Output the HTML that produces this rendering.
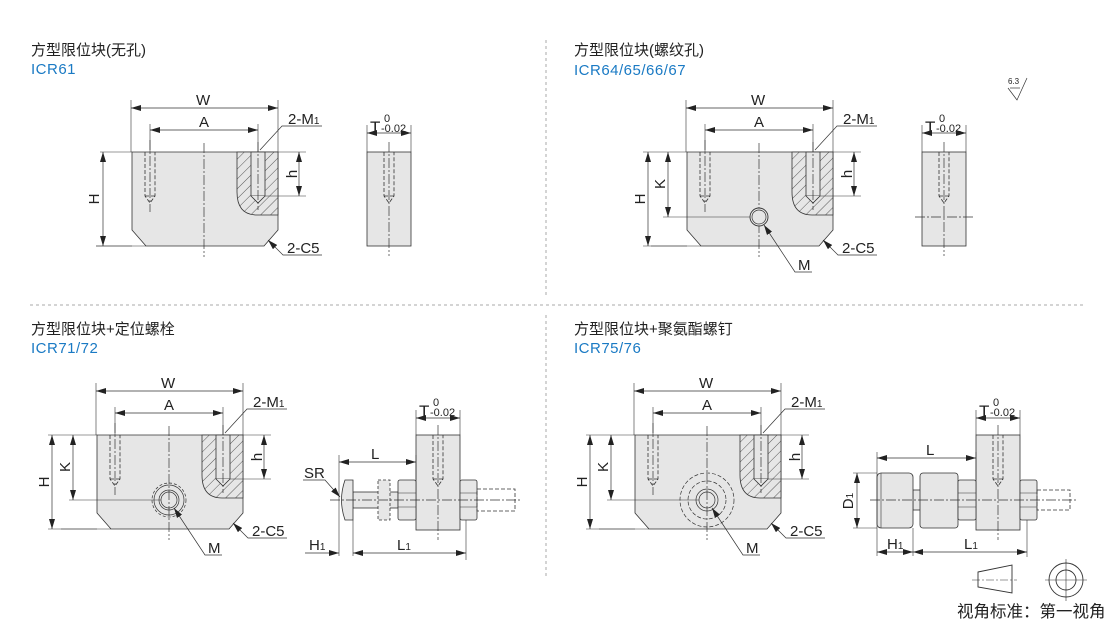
<!DOCTYPE html>
<html><head><meta charset="utf-8"><style>
html,body{margin:0;padding:0;background:#fff;}
svg{display:block;font-family:"Liberation Sans","Noto Sans CJK SC",sans-serif;}
.t{font-size:15px;fill:#222;}
.b{font-size:15px;fill:#1a7ac4;letter-spacing:0.5px;}
.l{font-size:15px;fill:#222;}
.s{font-size:11px;fill:#222;}
.T{font-size:17px;fill:#222;}
</style></head><body>
<svg width="1110" height="623" viewBox="0 0 1110 623" xmlns="http://www.w3.org/2000/svg">
<defs>
<marker id="a" viewBox="0 0 10 6" refX="10" refY="3" markerWidth="10" markerHeight="6" markerUnits="userSpaceOnUse" orient="auto-start-reverse"><path d="M0,0 L10,3 L0,6 Z" fill="#222"/></marker>
<pattern id="h" width="7" height="7" patternUnits="userSpaceOnUse" patternTransform="rotate(45)"><rect width="7" height="7" fill="#e6e6e6"/><line x1="0" y1="0" x2="0" y2="7" stroke="#333" stroke-width="0.8"/></pattern>
<g id="blk" stroke="#333" stroke-width="0.8" fill="none">
 <polygon points="132,152 278,152 278,230 264,246 146,246 132,230" fill="#e6e6e6"/>
 <path d="M237,152 L278,152 L278,215 L257,215 Q237,215 237,192 Z" fill="url(#h)"/>
 <rect x="251" y="152" width="14" height="44" fill="#e6e6e6"/>
 <path d="M251,196 L258,203 L265,196" fill="#e6e6e6"/>
 <path d="M145,152 V196 L150,203 L155,196 V152 M145,196 H155" stroke-dasharray="4,2"/>
 <path d="M150,140 V212 M258,142 V210 M204,143 V257" stroke-dasharray="10,2,2,2" stroke-width="0.7"/>
 <path d="M131,100 V152 M278,100 V152 M150,124 V152 M258,124 V152" stroke-width="0.6"/>
 <line x1="131" y1="108" x2="278" y2="108" marker-start="url(#a)" marker-end="url(#a)" stroke-width="0.7"/>
 <line x1="150" y1="130" x2="258" y2="130" marker-start="url(#a)" marker-end="url(#a)" stroke-width="0.7"/>
 <path d="M322,126 H282 L260,150" stroke-width="0.7"/>
 <path d="M278,152 H306 M265,196 H306" stroke-width="0.6"/>
 <line x1="299" y1="152" x2="299" y2="196" marker-start="url(#a)" marker-end="url(#a)" stroke-width="0.7"/>
 <path d="M322,255 H283 L268,240" stroke-width="0.7" marker-end="url(#a)"/>
 <path d="M96,246 H146" stroke-width="0.6"/>
</g>
<g id="side" stroke="#333" stroke-width="0.8" fill="none">
 <rect x="367" y="152" width="44" height="94" fill="#e6e6e6"/>
 <path d="M384,152 V196 L389,203 L394,196 V152 M384,196 H394" stroke-dasharray="4,2"/>
 <path d="M389,142 V256" stroke-dasharray="10,2,2,2" stroke-width="0.7"/>
 <path d="M367,125 V152 M411,125 V152" stroke-width="0.6"/>
 <line x1="367" y1="133" x2="411" y2="133" marker-start="url(#a)" marker-end="url(#a)" stroke-width="0.7"/>
</g>
<g id="lbl">
 <text class="l" x="196" y="105">W</text>
 <text class="l" x="199" y="127">A</text>
 <text class="l" x="288" y="124">2-M<tspan font-size="10">1</tspan></text>
 <text class="l" x="287" y="253">2-C5</text>
 <text class="l" transform="translate(297,174) rotate(-90)" text-anchor="middle">h</text>
</g>
<g id="slbl">
 <text class="T" x="370" y="133">T</text><text class="s" x="384" y="122">0</text><text class="s" x="381" y="132">-0.02</text>
</g>
</defs>

<g stroke="#aaa" stroke-width="1" stroke-dasharray="3,3">
<line x1="546" y1="40" x2="546" y2="296"/>
<line x1="546" y1="315" x2="546" y2="578"/>
<line x1="30" y1="305" x2="1085" y2="305"/>
</g>

<text class="t" x="31" y="55">方型限位块(无孔)</text>
<text class="b" x="31" y="74">ICR61</text>
<use href="#blk"/><use href="#lbl"/><use href="#side"/><use href="#slbl"/>
<g stroke="#333" stroke-width="0.7" fill="none">
<path d="M100,152 H132 M96,246 H132" stroke-width="0.6"/>
<line x1="103" y1="152" x2="103" y2="246" marker-start="url(#a)" marker-end="url(#a)"/>
</g>
<text class="l" transform="translate(99,199) rotate(-90)" text-anchor="middle">H</text>

<text class="t" x="574" y="55">方型限位块(螺纹孔)</text>
<text class="b" x="574" y="75">ICR64/65/66/67</text>
<g transform="translate(555,0)">
<use href="#blk"/><use href="#lbl"/><use href="#side"/><use href="#slbl"/>
<g stroke="#333" stroke-width="0.7" fill="none">
<path d="M88,152 H132 M88,246 H132 M108,217 H196" stroke-width="0.6"/>
<line x1="93" y1="152" x2="93" y2="246" marker-start="url(#a)" marker-end="url(#a)"/>
<line x1="113" y1="152" x2="113" y2="217" marker-start="url(#a)" marker-end="url(#a)"/>
<circle cx="204" cy="217" r="9" fill="#e6e6e6" stroke-width="0.9"/>
<circle cx="204" cy="217" r="7"/>
<path d="M257,272 H240 L209,225" marker-end="url(#a)"/>
<path d="M360,217 H420" stroke-dasharray="10,2,2,2"/>
</g>
<text class="l" transform="translate(90,199) rotate(-90)" text-anchor="middle">H</text>
<text class="l" transform="translate(110,184) rotate(-90)" text-anchor="middle">K</text>
<text class="l" x="243" y="270">M</text>
</g>
<text x="1008" y="84" style="font-size:8px" fill="#222">6.3</text>
<path d="M1008,88 L1017,100 L1027,78" stroke="#333" fill="none" stroke-width="0.7"/>
<path d="M1010,88 H1020" stroke="#333" stroke-width="0.7"/>

<text class="t" x="31" y="334">方型限位块+定位螺栓</text>
<text class="b" x="31" y="353">ICR71/72</text>
<g transform="translate(-35,283)">
<use href="#blk"/><use href="#lbl"/>
<g stroke="#333" stroke-width="0.7" fill="none">
<path d="M83,152 H132 M83,246 H132 M104,217 H196" stroke-width="0.6"/>
<line x1="87" y1="152" x2="87" y2="246" marker-start="url(#a)" marker-end="url(#a)"/>
<line x1="108" y1="152" x2="108" y2="217" marker-start="url(#a)" marker-end="url(#a)"/>
<circle cx="204" cy="217" r="17" stroke-dasharray="3,2"/>
<circle cx="204" cy="217" r="15"/>
<circle cx="204" cy="217" r="10"/>
<circle cx="204" cy="217" r="8"/>
<path d="M257,272 H240 L209,225" marker-end="url(#a)"/>
</g>
<text class="l" transform="translate(84,199) rotate(-90)" text-anchor="middle">H</text>
<text class="l" transform="translate(105,184) rotate(-90)" text-anchor="middle">K</text>
<text class="l" x="243" y="270">M</text>
</g>
<g stroke="#333" stroke-width="0.8" fill="none">
<rect x="416" y="435" width="44" height="95" fill="#e6e6e6"/>
<path d="M433,435 V479 L438,486 L443,479 V435 M433,479 H443" stroke-dasharray="4,2"/>
<path d="M438,425 V540" stroke-dasharray="10,2,2,2" stroke-width="0.7"/>
<rect x="353" y="492" width="45" height="16" fill="#e6e6e6"/>
<path d="M345,480 H353 V520 H345 Q338,500 345,480 Z" fill="#e6e6e6"/>
<rect x="378" y="480" width="12" height="40" fill="#e6e6e6" stroke-dasharray="3,2"/>
<rect x="398" y="480" width="18" height="40" fill="#e6e6e6" rx="2"/>
<path d="M398,493 H416 M398,507 H416" stroke-width="0.6"/>
<rect x="460" y="480" width="17" height="40" fill="#e6e6e6" rx="2"/>
<path d="M460,493 H477 M460,507 H477" stroke-width="0.6"/>
<rect x="477" y="489" width="38" height="22" stroke-dasharray="4,2"/>
<path d="M330,500 H520" stroke-dasharray="10,2,2,2" stroke-width="0.7"/>
<path d="M416,410 V435 M460,410 V435" stroke-width="0.6"/>
<line x1="416" y1="418" x2="460" y2="418" marker-start="url(#a)" marker-end="url(#a)" stroke-width="0.7"/>
<path d="M339,455 V556 M353,520 V556 M466,520 V560 M416,455 V480" stroke-width="0.6"/>
<line x1="339" y1="462" x2="416" y2="462" marker-start="url(#a)" marker-end="url(#a)" stroke-width="0.7"/>
<line x1="305" y1="553" x2="339" y2="553" marker-end="url(#a)" stroke-width="0.7"/>
<line x1="353" y1="553" x2="466" y2="553" marker-start="url(#a)" marker-end="url(#a)" stroke-width="0.7"/>
<path d="M303,480 H325 L340,497" stroke-width="0.7" marker-end="url(#a)"/>
</g>
<text class="T" x="419" y="417">T</text><text class="s" x="433" y="406">0</text><text class="s" x="430" y="416">-0.02</text>
<text class="l" x="371" y="459">L</text>
<text class="l" x="304" y="478">SR</text>
<text class="l" x="309" y="550">H<tspan font-size="10">1</tspan></text>
<text class="l" x="397" y="550">L<tspan font-size="10">1</tspan></text>

<text class="t" x="574" y="334">方型限位块+聚氨酯螺钉</text>
<text class="b" x="574" y="353">ICR75/76</text>
<g transform="translate(503,283)">
<use href="#blk"/><use href="#lbl"/>
<g stroke="#333" stroke-width="0.7" fill="none">
<path d="M83,152 H132 M83,246 H132 M104,217 H196" stroke-width="0.6"/>
<line x1="87" y1="152" x2="87" y2="246" marker-start="url(#a)" marker-end="url(#a)"/>
<line x1="108" y1="152" x2="108" y2="217" marker-start="url(#a)" marker-end="url(#a)"/>
<circle cx="204" cy="217" r="27" stroke-dasharray="4,2"/>
<circle cx="204" cy="217" r="19" stroke-dasharray="4,2"/>
<circle cx="204" cy="217" r="11"/>
<circle cx="204" cy="217" r="8"/>
<path d="M257,272 H240 L209,225" marker-end="url(#a)"/>
</g>
<text class="l" transform="translate(84,199) rotate(-90)" text-anchor="middle">H</text>
<text class="l" transform="translate(105,184) rotate(-90)" text-anchor="middle">K</text>
<text class="l" x="243" y="270">M</text>
</g>
<g stroke="#333" stroke-width="0.8" fill="none">
<rect x="976" y="435" width="44" height="95" fill="#e6e6e6"/>
<path d="M993,435 V479 L998,486 L1003,479 V435 M993,479 H1003" stroke-dasharray="4,2"/>
<path d="M998,425 V540" stroke-dasharray="10,2,2,2" stroke-width="0.7"/>
<rect x="913" y="490" width="45" height="20" fill="#e6e6e6"/>
<rect x="877" y="473" width="36" height="55" rx="4" fill="#e6e6e6"/>
<path d="M881,473 V528" stroke-width="0.6"/>
<rect x="920" y="473" width="38" height="55" rx="3" fill="#e6e6e6"/>
<rect x="958" y="480" width="18" height="40" fill="#e6e6e6" rx="2"/>
<path d="M958,493 H976 M958,507 H976" stroke-width="0.6"/>
<rect x="1020" y="480" width="17" height="40" fill="#e6e6e6" rx="2"/>
<path d="M1020,493 H1037 M1020,507 H1037" stroke-width="0.6"/>
<rect x="1037" y="490" width="33" height="20" stroke-dasharray="4,2"/>
<path d="M870,500 H1078" stroke-dasharray="10,2,2,2" stroke-width="0.7"/>
<path d="M976,410 V435 M1020,410 V435" stroke-width="0.6"/>
<line x1="976" y1="418" x2="1020" y2="418" marker-start="url(#a)" marker-end="url(#a)" stroke-width="0.7"/>
<path d="M877,452 V556 M913,528 V556 M1027,520 V557 M976,452 V480 M853,473 H877 M853,528 H877" stroke-width="0.6"/>
<line x1="877" y1="458" x2="976" y2="458" marker-start="url(#a)" marker-end="url(#a)" stroke-width="0.7"/>
<line x1="857" y1="473" x2="857" y2="528" marker-start="url(#a)" marker-end="url(#a)" stroke-width="0.7"/>
<line x1="877" y1="552" x2="913" y2="552" marker-start="url(#a)" marker-end="url(#a)" stroke-width="0.7"/>
<line x1="913" y1="552" x2="1027" y2="552" marker-start="url(#a)" marker-end="url(#a)" stroke-width="0.7"/>
<path d="M978,572 L1012,565 V593 L978,587 Z" stroke-width="0.9"/>
<path d="M972,580 H1017" stroke-dasharray="8,2,2,2" stroke-width="0.6"/>
<circle cx="1066" cy="580" r="17" stroke-width="0.9"/>
<circle cx="1066" cy="580" r="10" stroke-width="0.9"/>
<path d="M1045,580 H1087 M1066,559 V601" stroke-width="0.6"/>
</g>
<text class="T" x="979" y="417">T</text><text class="s" x="993" y="406">0</text><text class="s" x="990" y="416">-0.02</text>
<text class="l" x="926" y="455">L</text>
<text class="l" transform="translate(853,501) rotate(-90)" text-anchor="middle">D<tspan font-size="10">1</tspan></text>
<text class="l" x="887" y="549">H<tspan font-size="10">1</tspan></text>
<text class="l" x="964" y="549">L<tspan font-size="10">1</tspan></text>
<text x="957" y="617" style="font-size:16.5px" fill="#222">视角标准：第一视角</text>
</svg>
</body></html>
